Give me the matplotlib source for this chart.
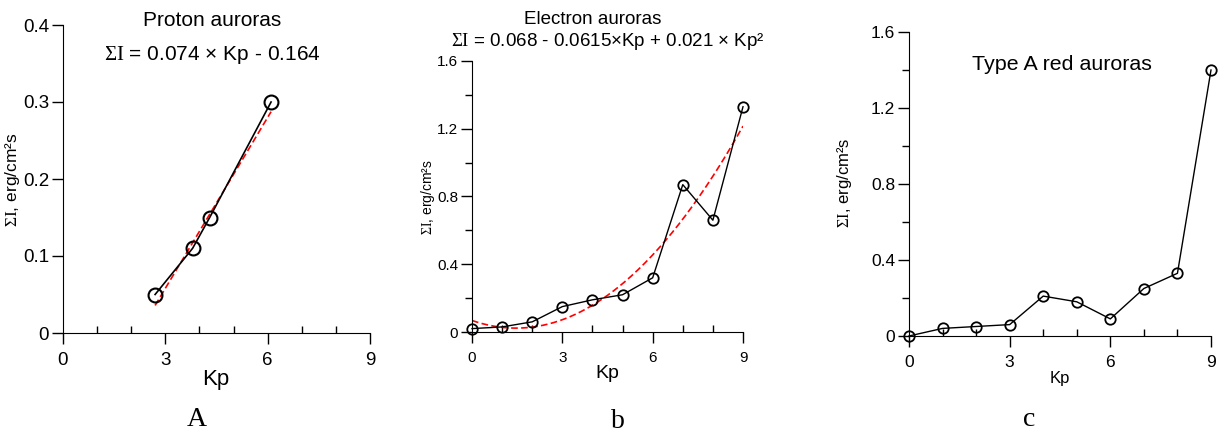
import matplotlib
matplotlib.use("Agg")
import matplotlib.pyplot as plt
import numpy as np
from matplotlib.ticker import MultipleLocator, FuncFormatter

plt.rcParams['font.family'] = ['Liberation Sans', 'DejaVu Sans']
plt.rcParams['mathtext.fontset'] = 'custom'
plt.rcParams['mathtext.rm'] = 'Liberation Serif'
plt.rcParams['mathtext.it'] = 'Liberation Serif:italic'
plt.rcParams['mathtext.bf'] = 'Liberation Serif:bold'

# Data
kp_proton = [2.7, 3.8, 4.3, 6.1]
si_proton = [0.05, 0.11, 0.15, 0.30]
fit_proton = [0.074, -0.164]  # slope, intercept

kp_electron = [0, 1, 2, 3, 4, 5, 6, 7, 8, 9]
si_electron = [0.02, 0.03, 0.06, 0.15, 0.19, 0.22, 0.32, 0.87, 0.66, 1.33]
fit_electron = [0.068, -0.0615, 0.021]  # c0, c1, c2

kp_red = [0, 1, 2, 3, 4, 5, 6, 7, 8, 9]
si_red = [0.0, 0.04, 0.05, 0.06, 0.21, 0.18, 0.09, 0.25, 0.33, 1.40]

W, H = 1218, 437
fig = plt.figure(figsize=(W / 100, H / 100), dpi=100)


def px_axes(l, r, b, t):
    return fig.add_axes([l / W, 1 - b / H, (r - l) / W, (b - t) / H])


def ftext(x, y, s, **kw):
    fig.text(x / W, 1 - y / H, s, ha='center', va='center', **kw)


fmt = FuncFormatter(lambda v, p: '0' if abs(v) < 1e-9 else f'{v:.1f}')


def style(ax, ymax, ymaj, ymin, fs):
    ax.set_xlim(0, 9)
    ax.set_ylim(0, ymax)
    for s in ['top', 'right']:
        ax.spines[s].set_visible(False)
    ax.xaxis.set_major_locator(MultipleLocator(3))
    ax.xaxis.set_minor_locator(MultipleLocator(1))
    ax.yaxis.set_major_locator(MultipleLocator(ymaj))
    if ymin:
        ax.yaxis.set_minor_locator(MultipleLocator(ymin))
    ax.yaxis.set_major_formatter(fmt)
    ax.tick_params(axis='x', which='major', direction='out', length=8, width=1, labelsize=fs, pad=6)
    ax.tick_params(axis='x', which='minor', direction='in', length=5, width=1)
    ax.tick_params(axis='y', which='major', direction='out', length=8, width=1, labelsize=fs, pad=2)
    ax.tick_params(axis='y', which='minor', direction='out', length=5, width=1)
    ax.set_facecolor('none')


ylab = r"$\mathrm{\Sigma I}$, erg/cm²s"

# Panel A
ax1 = px_axes(63, 370, 333, 25)
xs = np.array([kp_proton[0], kp_proton[-1]])
ax1.plot(xs, fit_proton[0] * xs + fit_proton[1], color='red', ls='--', lw=1.2, dashes=(4, 2))
ax1.plot(kp_proton, si_proton, color='black', lw=1.2, marker='o', ms=10, mfc='none',
         mec='black', mew=1.5, clip_on=False)
style(ax1, 0.4, 0.1, None, 13.5)
ftext(212, 20, 'Proton auroras', fontsize=15)
ftext(212, 55, r"$\mathrm{\Sigma I}$ = 0.074 × Kp - 0.164", fontsize=15)
ftext(13, 180, ylab, fontsize=12.5, rotation=90)
ftext(216, 380, 'Kp', fontsize=16)
ftext(197, 420, 'A', fontsize=20, family='Liberation Serif')

# Panel b
ax2 = px_axes(472, 743, 332, 61)
xf = np.linspace(0, 9, 200)
ax2.plot(xf, fit_electron[0] + fit_electron[1] * xf + fit_electron[2] * xf ** 2,
         color='red', ls='--', lw=1.2, dashes=(4, 2))
ax2.plot(kp_electron, si_electron, color='black', lw=1.0, marker='o', ms=7.5, mfc='none',
         mec='black', mew=1.3, clip_on=False)
style(ax2, 1.6, 0.4, 0.2, 11)
ftext(593, 19, 'Electron auroras', fontsize=13.5)
ftext(608, 42, r"$\mathrm{\Sigma I}$ = 0.068 - 0.0615×Kp + 0.021 × Kp²", fontsize=13.5)
ftext(428, 197, ylab, fontsize=10, rotation=90)
ftext(607, 373, 'Kp', fontsize=14)
ftext(618, 422, 'b', fontsize=20, family='Liberation Serif')

# Panel c
ax3 = px_axes(909, 1211, 336, 32)
ax3.plot(kp_red, si_red, color='black', lw=1.0, marker='o', ms=7.5, mfc='none',
         mec='black', mew=1.3, clip_on=False)
style(ax3, 1.6, 0.4, 0.2, 12.5)
ftext(1062, 65, 'Type A red auroras', fontsize=15.4)
ftext(845, 183, ylab, fontsize=12, rotation=90)
ftext(1060, 378, 'Kp', fontsize=12)
ftext(1029, 420, 'c', fontsize=20, family='Liberation Serif')

fig.savefig('out.png', dpi=100)
